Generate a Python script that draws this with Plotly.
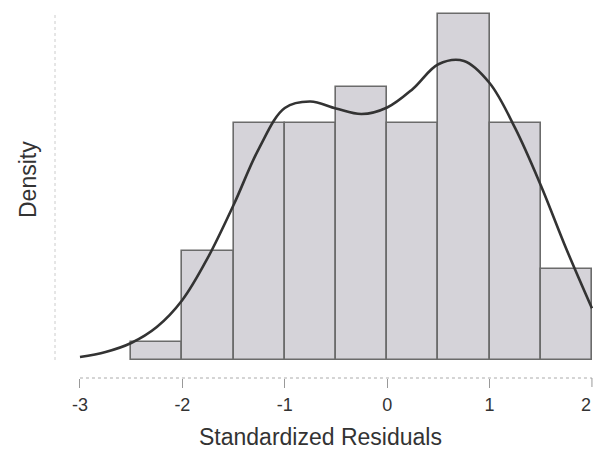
import plotly.graph_objects as go

# Histogram bins (left edges) and densities
bin_left = [-2.5, -2.0, -1.5, -1.0, -0.5, 0.0, 0.5, 1.0, 1.5]
bin_width = 0.5
density = [0.0204, 0.1224, 0.2653, 0.2653, 0.3061, 0.2653, 0.3878, 0.2653, 0.1020]

# Kernel density curve
kde_x = [-3.0, -2.75, -2.5, -2.25, -2.0, -1.75, -1.5, -1.25, -1.0, -0.75,
         -0.5, -0.25, 0.0, 0.25, 0.5, 0.75, 1.0, 1.25, 1.5, 1.75, 2.0]
kde_y = [0.0034, 0.0090, 0.0191, 0.0370, 0.0673, 0.1150, 0.1738, 0.2377, 0.2826, 0.2899,
         0.2821, 0.2758, 0.2831, 0.3039, 0.3316, 0.3353, 0.3106, 0.2600, 0.1960, 0.1245,
         0.0580]

x_ticks = [-3, -2, -1, 0, 1, 2]
x_tick_labels = ["-3", "-2", "-1", "0", "1", "2"]

centers = [b + bin_width / 2 for b in bin_left]

fig = go.Figure()
fig.add_trace(go.Bar(
    x=centers, y=density, width=[bin_width] * len(centers),
    marker=dict(color="#d5d3d9", line=dict(color="#6b6b6b", width=1.6)),
    hoverinfo="skip", showlegend=False,
))
fig.add_trace(go.Scatter(
    x=kde_x, y=kde_y, mode="lines",
    line=dict(color="#333333", width=2.6, shape="spline", smoothing=1.0),
    hoverinfo="skip", showlegend=False,
))

# axis lines drawn R-style (from first to last tick)
fig.add_shape(type="line", xref="x", yref="paper", x0=x_ticks[0], x1=x_ticks[-1],
              y0=0, y1=0, line=dict(color="#aaaaaa", width=1, dash="dot"))
fig.add_shape(type="line", xref="paper", yref="y", x0=0, x1=0, y0=0, y1=0.39,
              line=dict(color="#cccccc", width=1, dash="dot"))

font_family = "Liberation Sans, Arial, sans-serif"

# last tick label sits at the very right edge; keep it fully inside the page
fig.add_annotation(text=x_tick_labels[-1], xref="x", yref="paper",
                   x=x_ticks[-1], y=-(405 - 378) / 378, showarrow=False,
                   xanchor="right", yanchor="middle", xshift=1,
                   font=dict(family=font_family, size=18, color="#333333"))

fig.add_annotation(text="Standardized Residuals", xref="paper", yref="paper",
                   x=(320 - 55) / 539, y=-(437 - 378) / 378, showarrow=False,
                   xanchor="center", yanchor="middle",
                   font=dict(family=font_family, size=23, color="#333333"))
fig.add_annotation(text="Density", xref="paper", yref="paper",
                   x=-(55 - 28) / 539, y=(378 - 180) / 378, showarrow=False,
                   textangle=-90, xanchor="center", yanchor="middle",
                   font=dict(family=font_family, size=23, color="#333333"))

fig.update_layout(
    width=594, height=451,
    margin=dict(l=55, r=0, t=0, b=73),
    paper_bgcolor="white", plot_bgcolor="white",
    bargap=0,
    xaxis=dict(range=[-3.244, 2.02], tickvals=x_ticks[:-1], ticktext=x_tick_labels[:-1],
               showgrid=False, zeroline=False, showline=False,
               ticks="outside", ticklen=9, tickcolor="#999999", tickwidth=1,
               ticklabelstandoff=1,
               tickfont=dict(family=font_family, size=18, color="#333333")),
    yaxis=dict(range=[-0.0202, 0.4037], showgrid=False, zeroline=False,
               showline=False, showticklabels=False, ticks=""),
)
# tick mark at the last tick position (its label is the annotation above)
fig.add_shape(type="line", xref="x", yref="paper", x0=x_ticks[-1], x1=x_ticks[-1],
              y0=0, y1=-9 / 378, line=dict(color="#999999", width=1))

fig.write_html("out.html")
